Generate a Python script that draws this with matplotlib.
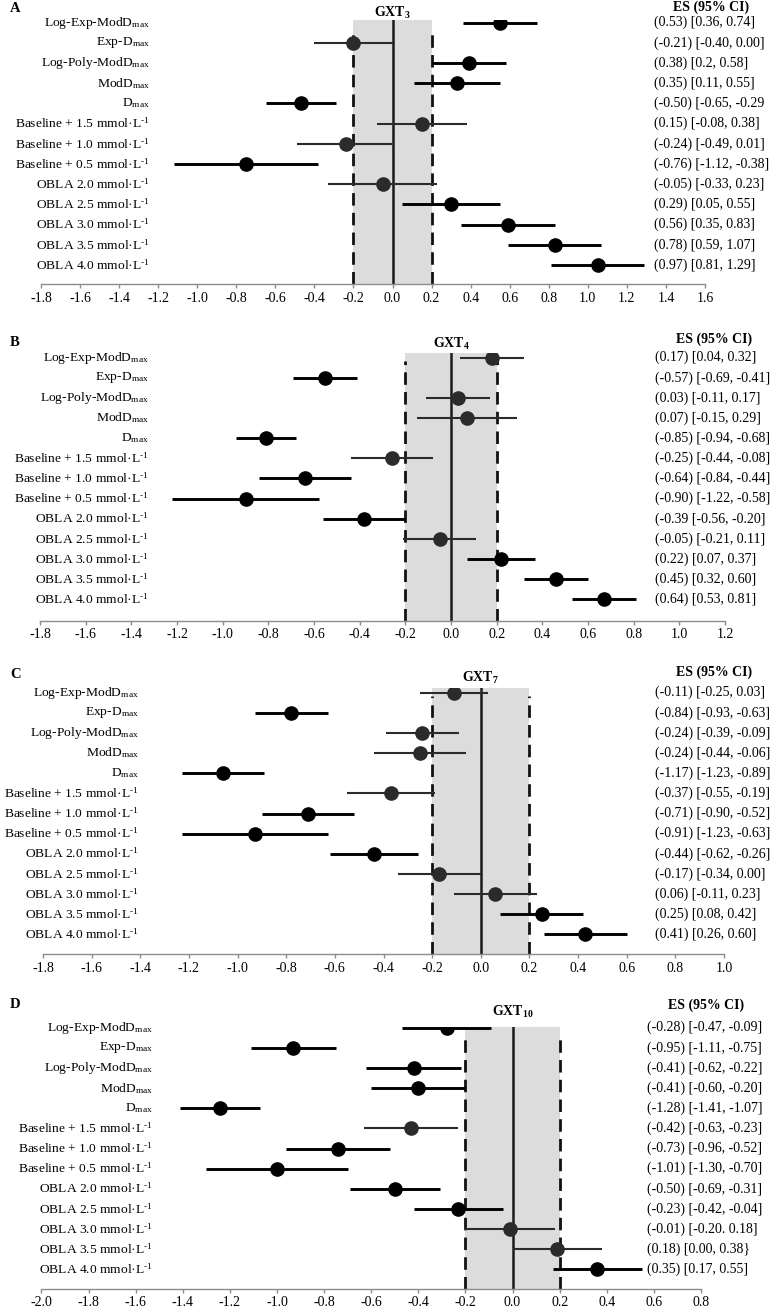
import matplotlib
matplotlib.use("Agg")
import matplotlib.pyplot as plt
import matplotlib.transforms as mtransforms

plt.rcParams["font.family"] = ["Liberation Serif", "DejaVu Serif"]
plt.rcParams["mathtext.fontset"] = "custom"
plt.rcParams["mathtext.rm"] = "Liberation Serif"
plt.rcParams["mathtext.it"] = "Liberation Serif:italic"
plt.rcParams["mathtext.bf"] = "Liberation Serif:bold"
plt.rcParams["axes.unicode_minus"] = False

W, H, DPI = 779, 1311, 100

# ---------------- data ----------------
row_labels = [
    "Log-Exp-ModD$_{\\mathregular{max}}$",
    "Exp-D$_{\\mathregular{max}}$",
    "Log-Poly-ModD$_{\\mathregular{max}}$",
    "ModD$_{\\mathregular{max}}$",
    "D$_{\\mathregular{max}}$",
    "Baseline + 1.5 mmol·L$^{\\mathregular{\u20101}}$",
    "Baseline + 1.0 mmol·L$^{\\mathregular{\u20101}}$",
    "Baseline + 0.5 mmol·L$^{\\mathregular{\u20101}}$",
    "OBLA 2.0 mmol·L$^{\\mathregular{\u20101}}$",
    "OBLA 2.5 mmol·L$^{\\mathregular{\u20101}}$",
    "OBLA 3.0 mmol·L$^{\\mathregular{\u20101}}$",
    "OBLA 3.5 mmol·L$^{\\mathregular{\u20101}}$",
    "OBLA 4.0 mmol·L$^{\\mathregular{\u20101}}$",
]

panel_letters = ["A", "B", "C", "D"]
panel_titles = ["GXT$_{\\mathbf{3}}$", "GXT$_{\\mathbf{4}}$", "GXT$_{\\mathbf{7}}$", "GXT$_{\\mathbf{10}}$"]

# marker positions (effect sizes as drawn)
es_A = [0.55, -0.20, 0.39, 0.33, -0.47, 0.15, -0.24, -0.75, -0.05, 0.30, 0.59, 0.83, 1.05]
lo_A = [0.36, -0.40, 0.20, 0.11, -0.65, -0.08, -0.49, -1.12, -0.33, 0.05, 0.35, 0.59, 0.81]
hi_A = [0.74, 0.00, 0.58, 0.55, -0.29, 0.38, 0.01, -0.38, 0.23, 0.55, 0.83, 1.07, 1.29]

es_B = [0.18, -0.55, 0.03, 0.07, -0.81, -0.26, -0.64, -0.90, -0.38, -0.05, 0.22, 0.46, 0.67]
lo_B = [0.04, -0.69, -0.11, -0.15, -0.94, -0.44, -0.84, -1.22, -0.56, -0.21, 0.07, 0.32, 0.53]
hi_B = [0.32, -0.41, 0.17, 0.29, -0.68, -0.08, -0.44, -0.58, -0.20, 0.11, 0.37, 0.60, 0.81]

es_C = [-0.11, -0.78, -0.24, -0.25, -1.06, -0.37, -0.71, -0.93, -0.44, -0.17, 0.06, 0.25, 0.43]
lo_C = [-0.25, -0.93, -0.39, -0.44, -1.23, -0.55, -0.90, -1.23, -0.62, -0.34, -0.11, 0.08, 0.26]
hi_C = [0.03, -0.63, -0.09, -0.06, -0.89, -0.19, -0.52, -0.63, -0.26, 0.00, 0.23, 0.42, 0.60]

es_D = [-0.28, -0.93, -0.42, -0.40, -1.24, -0.43, -0.74, -1.00, -0.50, -0.23, -0.01, 0.19, 0.36]
lo_D = [-0.47, -1.11, -0.62, -0.60, -1.41, -0.63, -0.96, -1.30, -0.69, -0.42, -0.20, 0.00, 0.17]
hi_D = [-0.09, -0.75, -0.22, -0.20, -1.07, -0.23, -0.52, -0.70, -0.31, -0.04, 0.18, 0.38, 0.55]

# rows drawn in the lighter (dark grey, thinner) style
light_A = [1, 5, 6, 8]
light_B = [0, 2, 3, 5, 9]
light_C = [0, 2, 3, 5, 9, 10]
light_D = [5, 10, 11]

es_text_A = ["(0.53) [0.36, 0.74]", "(-0.21) [-0.40, 0.00]", "(0.38) [0.2, 0.58]",
             "(0.35) [0.11, 0.55]", "(-0.50) [-0.65, -0.29", "(0.15) [-0.08, 0.38]",
             "(-0.24) [-0.49, 0.01]", "(-0.76) [-1.12, -0.38]", "(-0.05) [-0.33, 0.23]",
             "(0.29) [0.05, 0.55]", "(0.56) [0.35, 0.83]", "(0.78) [0.59, 1.07]",
             "(0.97) [0.81, 1.29]"]
es_text_B = ["(0.17) [0.04, 0.32]", "(-0.57) [-0.69, -0.41]", "(0.03) [-0.11, 0.17]",
             "(0.07) [-0.15, 0.29]", "(-0.85) [-0.94, -0.68]", "(-0.25) [-0.44, -0.08]",
             "(-0.64) [-0.84, -0.44]", "(-0.90) [-1.22, -0.58]", "(-0.39 [-0.56, -0.20]",
             "(-0.05) [-0.21, 0.11]", "(0.22) [0.07, 0.37]", "(0.45) [0.32, 0.60]",
             "(0.64) [0.53, 0.81]"]
es_text_C = ["(-0.11) [-0.25, 0.03]", "(-0.84) [-0.93, -0.63]", "(-0.24) [-0.39, -0.09]",
             "(-0.24) [-0.44, -0.06]", "(-1.17) [-1.23, -0.89]", "(-0.37) [-0.55, -0.19]",
             "(-0.71) [-0.90, -0.52]", "(-0.91) [-1.23, -0.63]", "(-0.44) [-0.62, -0.26]",
             "(-0.17) [-0.34, 0.00]", "(0.06) [-0.11, 0.23]", "(0.25) [0.08, 0.42]",
             "(0.41) [0.26, 0.60]"]
es_text_D = ["(-0.28) [-0.47, -0.09]", "(-0.95) [-1.11, -0.75]", "(-0.41) [-0.62, -0.22]",
             "(-0.41) [-0.60, -0.20]", "(-1.28) [-1.41, -1.07]", "(-0.42) [-0.63, -0.23]",
             "(-0.73) [-0.96, -0.52]", "(-1.01) [-1.30, -0.70]", "(-0.50) [-0.69, -0.31]",
             "(-0.23) [-0.42, -0.04]", "(-0.01) [-0.20. 0.18]", "(0.18) [0.00, 0.38}",
             "(0.35) [0.17, 0.55]"]

xlims = [(-1.8, 1.6), (-1.8, 1.2), (-1.8, 1.0), (-2.0, 0.8)]

panels = [
    (es_A, lo_A, hi_A, light_A, es_text_A),
    (es_B, lo_B, hi_B, light_B, es_text_B),
    (es_C, lo_C, hi_C, light_C, es_text_C),
    (es_D, lo_D, hi_D, light_D, es_text_D),
]

# ---------------- layout (pixels) ----------------
# left px, right px, top px (shaded top), bottom px (axis), first row px, last row px
geom = [
    (41, 705, 20, 284, 22.7, 265.0),
    (40, 725, 353, 621, 357.7, 599.3),
    (43, 724, 688, 954, 692.7, 934.3),
    (41.4, 701, 1027, 1289, 1027.7, 1269.3),
]
label_right = [150, 149, 139, 153]
es_left = [654, 655, 655, 647]
head_left = [673, 676, 676, 668]
head_y = [7, 339, 672, 1005]
title_y = [13, 344, 678, 1012]
letter_y = [9, 342, 674, 1004]

fig = plt.figure(figsize=(W / DPI, H / DPI), dpi=DPI)
fig.patch.set_facecolor("white")

FS = 10
FS_LAB = 9.7
for p, (es, lo, hi, light, es_txt) in enumerate(panels):
    lpx, rpx, tpx, bpx, r1, r13 = geom[p]
    ax = fig.add_axes([lpx / W, 1 - bpx / H, (rpx - lpx) / W, (bpx - tpx) / H])
    n = len(es)
    sp = (r13 - r1) / (n - 1)
    ytop = -(r1 - tpx) / sp
    ybot = (n - 1) + (bpx - r13) / sp
    ax.set_xlim(*xlims[p])
    ax.set_ylim(ybot, ytop)
    ax.set_facecolor("none")

    ax.axvspan(-0.2, 0.2, color="#dcdcdc", zorder=0, lw=0)
    ax.axvline(0, color="#1a1a1a", lw=1.8, zorder=1)
    dash_top = 1 - 8 / (bpx - tpx)
    for xv in (-0.2, 0.2):
        ax.axvline(xv, ymin=0, ymax=dash_top, color="#111111", lw=2.0,
                   linestyle=(0, (4.5, 2.6)), zorder=1)

    ys = list(range(n))
    for i in range(n):
        if i in light:
            c, lw = "#2b2b2b", 1.5
        else:
            c, lw = "#000000", 2.1
        ax.plot([lo[i], hi[i]], [ys[i], ys[i]], color=c, lw=lw, solid_capstyle="butt", zorder=3)
        ax.plot(es[i], ys[i], "o", color=c, ms=9.5, mec=c, zorder=4)

    for s in ("top", "left", "right"):
        ax.spines[s].set_visible(False)
    ax.spines["bottom"].set_color("#8c8c8c")
    ax.spines["bottom"].set_linewidth(1.0)
    lo_t, hi_t = xlims[p]
    ticks = [round(lo_t + 0.2 * k, 1) for k in range(int(round((hi_t - lo_t) / 0.2)) + 1)]
    ax.set_xticks(ticks)
    ax.set_xticklabels([f"{t:.1f}" for t in ticks], fontsize=FS)
    ax.tick_params(axis="x", direction="out", length=2.8, width=1.0, color="#8c8c8c", pad=2.6)
    ax.set_yticks([])

    trans = mtransforms.blended_transform_factory(fig.transFigure, ax.transData)
    for i in range(n):
        fig.text(label_right[p] / W, ys[i], row_labels[i], transform=trans,
                 ha="right", va="center", fontsize=FS_LAB)
        fig.text(es_left[p] / W, ys[i], es_txt[i], transform=trans,
                 ha="left", va="center", fontsize=FS)

    fig.text(head_left[p] / W, 1 - head_y[p] / H, "ES (95% CI)", ha="left", va="center",
             fontsize=FS, fontweight="bold")
    tx = ax.transData.transform((0, 0))[0] / fig.bbox.width
    fig.text(tx, 1 - title_y[p] / H, panel_titles[p], ha="center", va="center",
             fontsize=FS, fontweight="bold")
    fig.text(10 / W, 1 - letter_y[p] / H, panel_letters[p], ha="left", va="center",
             fontsize=FS + 0.5, fontweight="bold")

fig.savefig("out.png", dpi=DPI, facecolor="white")
